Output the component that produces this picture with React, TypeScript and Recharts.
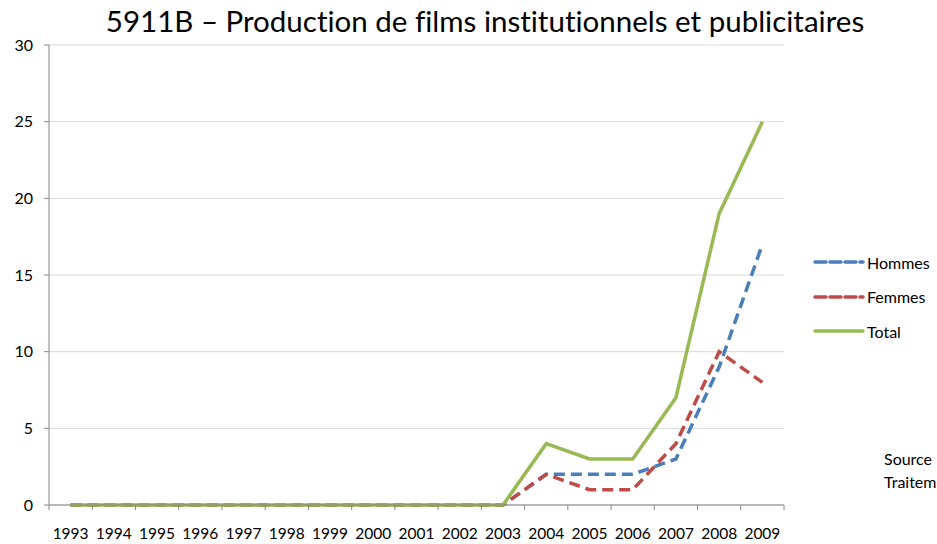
import { CartesianGrid, Line, LineChart, XAxis, YAxis } from "recharts";

const YEARS = [
  "1993", "1994", "1995", "1996", "1997", "1998", "1999", "2000", "2001",
  "2002", "2003", "2004", "2005", "2006", "2007", "2008", "2009",
];
const HOMMES = [0, 0, 0, 0, 0, 0, 0, 0, 0, 0, 0, 2, 2, 2, 3, 9, 17];
const FEMMES = [0, 0, 0, 0, 0, 0, 0, 0, 0, 0, 0, 2, 1, 1, 4, 10, 8];
const TOTAL = [0, 0, 0, 0, 0, 0, 0, 0, 0, 0, 0, 4, 3, 3, 7, 19, 25];
const Y_TICKS = [0, 5, 10, 15, 20, 25, 30];

const SERIES = [
  { key: "hommes", name: "Hommes", color: "#4a7ebb", dash: "11 6" },
  { key: "femmes", name: "Femmes", color: "#be4b48", dash: "11 6" },
  { key: "total", name: "Total", color: "#98b954", dash: undefined },
];

const FONT = "Lato, 'Noto Sans', sans-serif";
const W = 937;
const H = 544;
const MARGIN = { top: 45, right: 153, bottom: 0, left: 0 };
const Y_AXIS_W = 49;
const X_AXIS_H = 39;
const HALF_BAND = (W - MARGIN.right - Y_AXIS_W) / YEARS.length / 2;

const data = YEARS.map((year, i) => ({
  year,
  hommes: HOMMES[i],
  femmes: FEMMES[i],
  total: TOTAL[i],
}));

function YearTick(props: any) {
  const { x, y, payload, index } = props;
  const top = y - 8;
  return (
    <g>
      <line x1={x + HALF_BAND} y1={top} x2={x + HALF_BAND} y2={top + 5} stroke="#868686" />
      {index === 0 && (
        <line x1={x - HALF_BAND} y1={top} x2={x - HALF_BAND} y2={top + 5} stroke="#868686" />
      )}
      <text x={x} y={top + 34} textAnchor="middle" fontSize={15.5} fill="#000" fontFamily={FONT}>
        {payload.value}
      </text>
    </g>
  );
}

export default function App() {
  return (
    <div
      style={{
        position: "absolute",
        top: 0,
        left: 0,
        width: W,
        height: H,
        overflow: "hidden",
        background: "#fff",
        fontFamily: FONT,
        fontVariantLigatures: "none",
      }}
    >
      <div
        style={{
          position: "absolute",
          top: 3,
          left: 0,
          width: 970,
          textAlign: "center",
          fontSize: 29.5,
          color: "#000",
          whiteSpace: "nowrap",
        }}
      >
        5911B – Production de films institutionnels et publicitaires
      </div>

      <LineChart width={W} height={H} data={data} margin={MARGIN}>
        <CartesianGrid vertical={false} stroke="#d9d9d9" />
        <XAxis
          dataKey="year"
          scale="band"
          height={X_AXIS_H}
          stroke="#868686"
          tickLine={false}
          tick={<YearTick />}
          interval={0}
        />
        <YAxis
          width={Y_AXIS_W}
          domain={[0, 30]}
          ticks={Y_TICKS}
          stroke="#868686"
          tickSize={5}
          tickMargin={11}
          tick={{ fill: "#000", fontSize: 16, fontFamily: FONT }}
        />
        {SERIES.map((s) => (
          <Line
            key={s.key}
            type="linear"
            dataKey={s.key}
            name={s.name}
            stroke={s.color}
            strokeWidth={3.5}
            strokeDasharray={s.dash}
            dot={false}
            activeDot={false}
            isAnimationActive={false}
          />
        ))}
      </LineChart>

      <div style={{ position: "absolute", left: 813, top: 245, fontSize: 16, color: "#000" }}>
        {SERIES.map((s) => (
          <div key={s.key} style={{ display: "flex", alignItems: "center", height: 34.5 }}>
            <svg width={52} height={8}>
              <line
                x1={2}
                y1={4}
                x2={50}
                y2={4}
                stroke={s.color}
                strokeWidth={3.5}
                strokeDasharray={s.dash ? "11 4" : undefined}
                strokeLinecap="round"
              />
            </svg>
            <span style={{ marginLeft: 2 }}>{s.name}</span>
          </div>
        ))}
      </div>

      <div style={{ position: "absolute", left: 884, top: 447, fontSize: 16, lineHeight: "23px", color: "#000", whiteSpace: "nowrap" }}>
        <div>Source :</div>
        <div>Traitement :</div>
      </div>
    </div>
  );
}
